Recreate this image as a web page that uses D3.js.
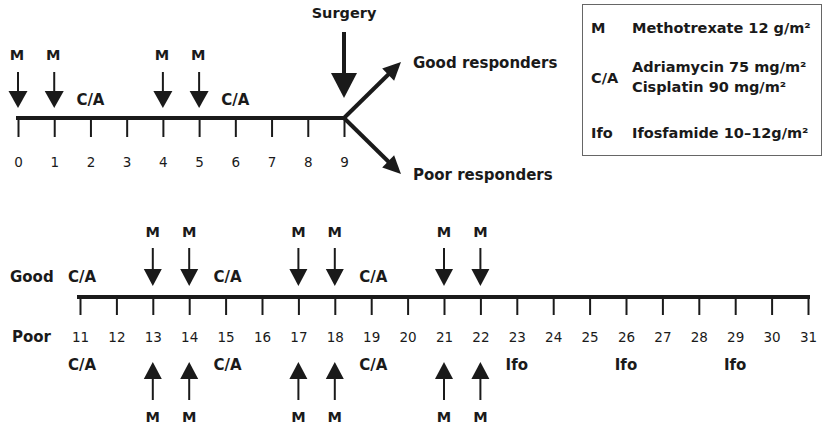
<!DOCTYPE html>
<html>
<head>
<meta charset="utf-8">
<script src="https://cdn.jsdelivr.net/npm/d3@7"></script>
<style>
  body { margin: 0; background: #fff; }
  svg { display: block; font-family: "DejaVu Sans", sans-serif; }
  .lbl { font-weight: bold; fill: #1a1a1a; }
  .tick text { font-size: 13.5px; fill: #1a1a1a; font-family: "DejaVu Sans", sans-serif; }
  .tick line { stroke: #1a1a1a; stroke-width: 2; }
</style>
</head>
<body>
<div id="chart"></div>
<script>
// pre-operative weeks (before surgery)
const preopWeeks = [0, 1, 2, 3, 4, 5, 6, 7, 8, 9];
const preopM = [0, 1, 4, 5];
const preopCA = [2, 6];
const surgeryWeek = 9;

// post-operative weeks
const postWeeks = [11, 12, 13, 14, 15, 16, 17, 18, 19, 20, 21, 22, 23, 24, 25, 26, 27, 28, 29, 30, 31];
const goodM = [13, 14, 17, 18, 21, 22];
const goodCA = [11, 15, 19];
const poorM = [13, 14, 17, 18, 21, 22];
const poorCA = [11, 15, 19];
const poorIfo = [23, 26, 29];

// legend
const legendCodes = ["M", "C/A", "Ifo"];
const legendText = [
  ["Methotrexate 12 g/m²"],
  ["Adriamycin 75 mg/m²", "Cisplatin 90 mg/m²"],
  ["Ifosfamide 10–12g/m²"]
];

const width = 823, height = 428;
const ink = "#1a1a1a";

const svg = d3.select("#chart").append("svg")
  .attr("width", width)
  .attr("height", height);

const xTop = d3.scaleLinear().domain([0, 9]).range([18, 344]);
const xBot = d3.scaleLinear().domain([11, 31]).range([80, 808]);

const yTop = 118, yBot = 297;

// arrow helpers
function downArrow(g, x, tipY, triH, triW, stemTop, stemW) {
  g.append("line")
    .attr("x1", x).attr("x2", x)
    .attr("y1", stemTop).attr("y2", tipY - triH + 1)
    .attr("stroke", ink).attr("stroke-width", stemW);
  g.append("path")
    .attr("d", `M${x - triW / 2},${tipY - triH}L${x + triW / 2},${tipY - triH}L${x},${tipY}Z`)
    .attr("fill", ink);
}
function upArrow(g, x, tipY, triH, triW, stemBottom, stemW) {
  g.append("line")
    .attr("x1", x).attr("x2", x)
    .attr("y1", tipY + triH - 1).attr("y2", stemBottom)
    .attr("stroke", ink).attr("stroke-width", stemW);
  g.append("path")
    .attr("d", `M${x - triW / 2},${tipY + triH}L${x + triW / 2},${tipY + triH}L${x},${tipY}Z`)
    .attr("fill", ink);
}
function label(g, x, y, txt, size, anchor) {
  return g.append("text")
    .attr("class", "lbl")
    .attr("x", x).attr("y", y)
    .attr("text-anchor", anchor || "middle")
    .style("font-size", size + "px")
    .text(txt);
}

// ---- top timeline ----
const gTop = svg.append("g");

gTop.append("g")
  .attr("transform", `translate(0,${yTop})`)
  .call(d3.axisBottom(xTop).tickValues(preopWeeks).tickSize(19).tickSizeOuter(0).tickPadding(20).tickFormat(d3.format("d")))
  .call(g => g.select(".domain").remove());

gTop.append("line")
  .attr("x1", xTop(0) - 2).attr("x2", xTop(surgeryWeek))
  .attr("y1", yTop).attr("y2", yTop)
  .attr("stroke", ink).attr("stroke-width", 4);

preopM.forEach(w => {
  downArrow(gTop, xTop(w), 108, 17, 19, 72, 2);
  label(gTop, xTop(w) - 1, 60, "M", 14.5);
});
preopCA.forEach(w => label(gTop, xTop(w), 105, "C/A", 15));

// surgery arrow
const sx = xTop(surgeryWeek);
downArrow(gTop, sx, 98, 25, 26, 32, 4);
label(gTop, sx, 18, "Surgery", 14.5);

// branches to responders
function branch(x0, y0, x1, y1) {
  const ang = Math.atan2(y1 - y0, x1 - x0);
  const len = 18, hw = 8.5;
  const bx = x1 - len * Math.cos(ang), by = y1 - len * Math.sin(ang);
  gTop.append("line")
    .attr("x1", x0).attr("y1", y0).attr("x2", bx + 2 * Math.cos(ang)).attr("y2", by + 2 * Math.sin(ang))
    .attr("stroke", ink).attr("stroke-width", 4);
  gTop.append("path")
    .attr("d", `M${x1},${y1}L${bx - hw * Math.sin(ang)},${by + hw * Math.cos(ang)}L${bx + hw * Math.sin(ang)},${by - hw * Math.cos(ang)}Z`)
    .attr("fill", ink);
}
branch(sx, yTop, 401, 62);
branch(sx, yTop, 401, 174);
label(gTop, 413, 68, "Good responders", 15, "start");
label(gTop, 413, 180, "Poor responders", 15, "start");

// ---- legend box ----
const leg = svg.append("g");
leg.append("rect")
  .attr("x", 582.5).attr("y", 4.5).attr("width", 239).attr("height", 151)
  .attr("fill", "none").attr("stroke", "#666").attr("stroke-width", 1);

const codeY = [33, 83, 138];
const lineY = [[33], [72, 92], [138]];
legendCodes.forEach((c, i) => {
  label(leg, 591, codeY[i], c, 14.5, "start");
  legendText[i].forEach((t, j) => label(leg, 632, lineY[i][j], t, 14.5, "start"));
});

// ---- bottom timeline ----
const gBot = svg.append("g");

gBot.append("g")
  .attr("transform", `translate(0,${yBot})`)
  .call(d3.axisBottom(xBot).tickValues(postWeeks).tickSize(18).tickSizeOuter(0).tickPadding(17).tickFormat(d3.format("d")))
  .call(g => g.select(".domain").remove());

gBot.append("line")
  .attr("x1", xBot(11) - 3).attr("x2", xBot(31) + 2)
  .attr("y1", yBot).attr("y2", yBot)
  .attr("stroke", ink).attr("stroke-width", 4);

label(gBot, 10, 282, "Good", 15, "start");
label(gBot, 12, 342, "Poor", 15, "start");

goodM.forEach(w => {
  downArrow(gBot, xBot(w), 286, 17, 18, 248, 2);
  label(gBot, xBot(w), 237, "M", 14.5);
});
goodCA.forEach(w => label(gBot, xBot(w) + 2, 282, "C/A", 15));

poorM.forEach(w => {
  upArrow(gBot, xBot(w), 362, 17, 18, 400, 2);
  label(gBot, xBot(w), 422, "M", 14.5);
});
poorCA.forEach(w => label(gBot, xBot(w) + 2, 370, "C/A", 15));
poorIfo.forEach(w => label(gBot, xBot(w), 370, "Ifo", 15));
</script>
</body>
</html>
